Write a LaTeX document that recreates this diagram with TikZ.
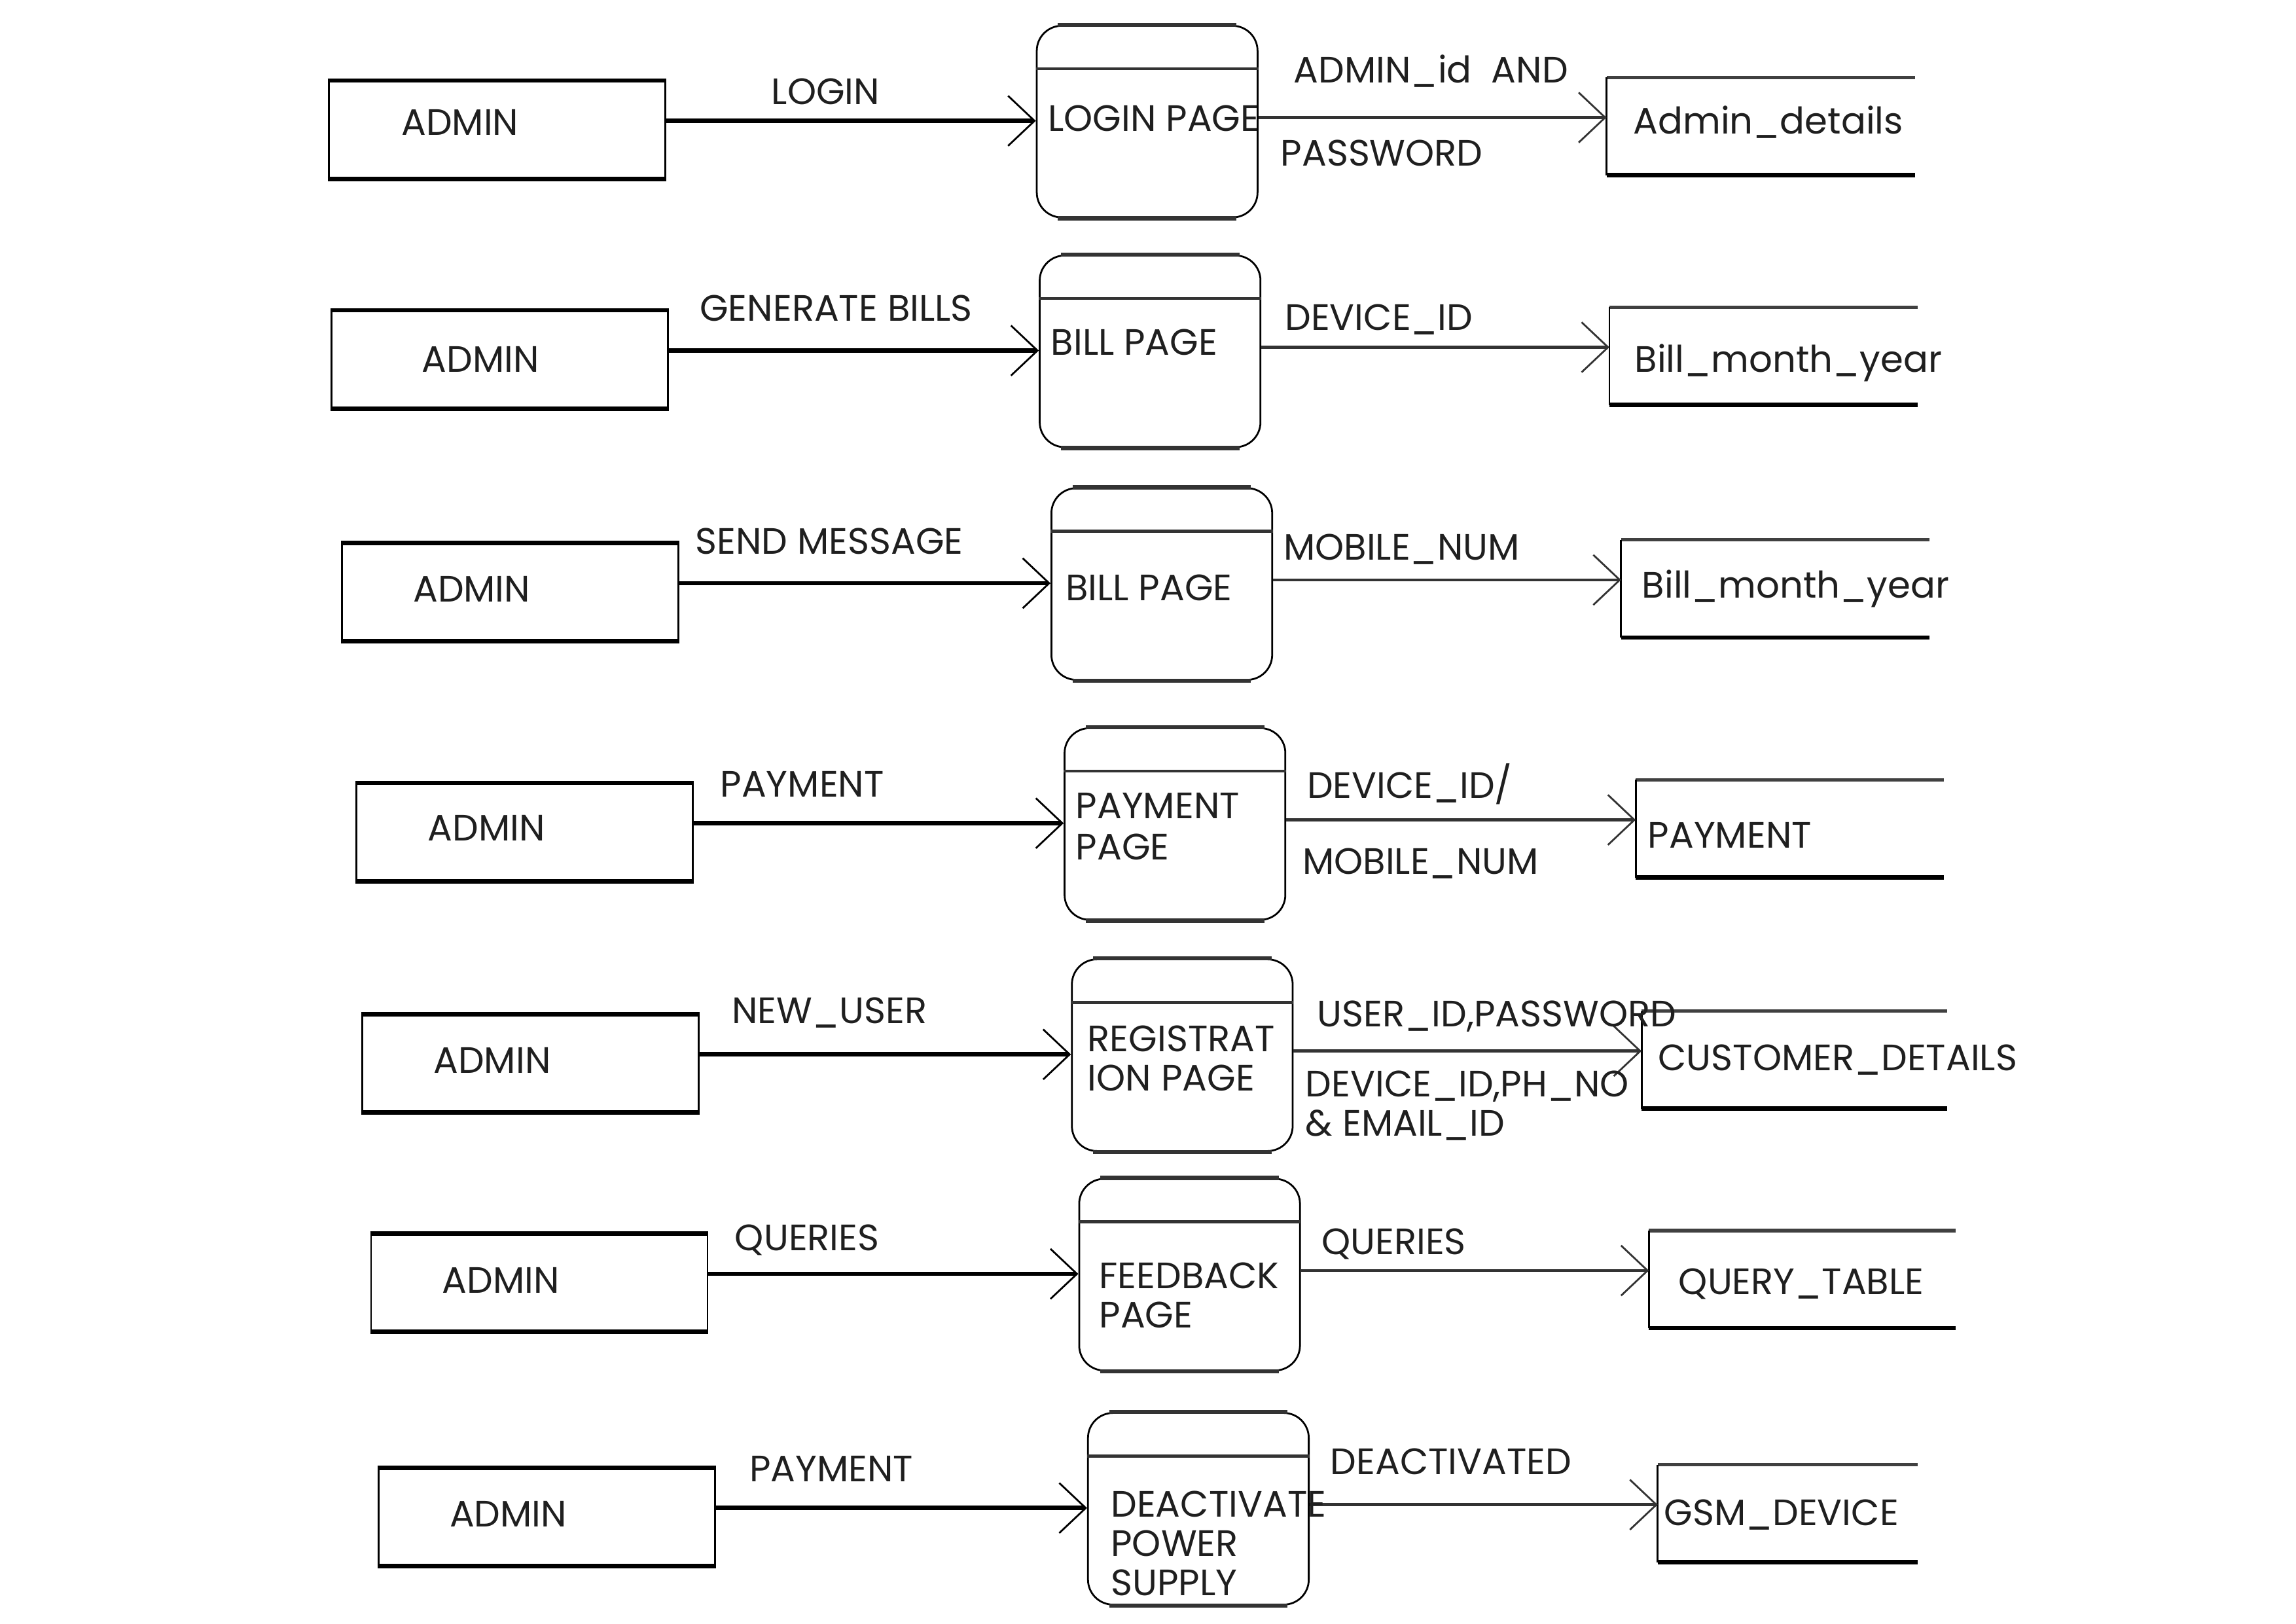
\documentclass[tikz,border=0pt]{standalone}
\usepackage{fontspec}
\setmainfont{Poppins}
\usetikzlibrary{arrows.meta,calc}
\tikzset{
  adminbox/.style={draw, line width=0.7pt, minimum width=4.572cm, minimum height=1.312cm, inner sep=0pt, anchor=north west},
  procbox/.style={draw, line width=0.7pt, rounded corners=0.34cm, minimum width=3.0cm, minimum height=2.604cm, inner sep=0pt, anchor=north west},
  storebox/.style={inner sep=0pt, minimum height=1.312cm, anchor=north west},
  edgeline/.style={line width=1.7pt, line cap=butt},
  proctop/.style={line width=1.6pt, black!80},
  divider/.style={line width=1.2pt, black!80},
  sideline/.style={line width=0.7pt},
  storetop/.style={line width=1.3pt, black!75},
  txt/.style={anchor=base west, inner sep=0pt, yshift=-0.05cm, font=\fontsize{14.2}{16}\selectfont, text=black!88},
  inflow/.style={line width=1.7pt, -{Straight Barb[length=0.36cm, width=0.68cm, line width=0.7pt]}},
  outflow/.style={line width=1.2pt, black!80, -{Straight Barb[length=0.36cm, width=0.68cm, line width=0.7pt]}},
}
% #1 prefix, #2 admin x, #3 admin y, #4 process x, #5 store x, #6 store width (cm)
\newcommand\dfdrow[6]{%
  \node[adminbox] (#1a) at (#2,#3) {};
  \draw[edgeline] (#1a.north west) -- (#1a.north east);
  \draw[edgeline] (#1a.south west) -- (#1a.south east);
  \node[procbox] (#1p) at (#4,#3-38) {};
  \draw[proctop] ($(#1p.north west)+(0.3cm,0)$) -- ($(#1p.north east)+(-0.3cm,0)$);
  \draw[proctop] ($(#1p.south west)+(0.3cm,0)$) -- ($(#1p.south east)+(-0.3cm,0)$);
  \draw[divider] ($(#1p.north west)+(0,-0.596cm)$) -- ($(#1p.north east)+(0,-0.596cm)$);
  \node[storebox, minimum width=#6cm] (#1s) at (#5,#3-2) {};
  \draw[storetop] (#1s.north west) -- (#1s.north east);
  \draw[sideline] (#1s.north west) -- (#1s.south west);
  \draw[edgeline] (#1s.south west) -- (#1s.south east);
  \coordinate (#1l) at ($(#1a.east)+(0,0.12cm)$);
  \coordinate (#1r) at ($(#1s.west)+(0,0.12cm)$);
  \draw[inflow] (#1l) -- (#1l -| #1p.west);
  \draw[outflow] (#1r -| #1p.east) -- (#1r);
}
\begin{document}
\begin{tikzpicture}[x=0.01988cm,y=-0.01988cm]
\useasboundingbox[fill=white] (0cm,0cm) rectangle (31.2cm,-22.057cm);

% Row 1
\dfdrow{r1}{224}{55}{708}{1098}{4.175}
\node[txt] (r1t1) at (274,90) {ADMIN};
\node[txt] (r1t2) at (527,69) {LOGIN};
\node[txt] (r1t3) at (716,87) {LOGIN PAGE};
\node[txt] (r1t4) at (884,54) {ADMIN\_id~~AND};
\node[txt] (r1t5) at (875,111) {PASSWORD};
\node[txt] (r1t6) at (1116,89) {Admin\_details};

% Row 2
\dfdrow{r2}{226}{212}{710}{1100}{4.175}
\node[txt] (r2t1) at (288,252) {ADMIN};
\node[txt] (r2t2) at (478,217) {GENERATE BILLS};
\node[txt] (r2t3) at (718,240) {BILL PAGE};
\node[txt] (r2t4) at (878,223) {DEVICE\_ID};
\node[txt] (r2t5) at (1117,252) {Bill\_month\_year};

% Row 3
\dfdrow{r3}{233}{371}{718}{1108}{4.175}
\node[txt] (r3t1) at (282,409) {ADMIN};
\node[txt] (r3t2) at (475,376) {SEND MESSAGE};
\node[txt] (r3t3) at (728,408) {BILL PAGE};
\node[txt] (r3t4) at (877,380) {MOBILE\_NUM};
\node[txt] (r3t5) at (1122,406) {Bill\_month\_year};

% Row 4
\dfdrow{r4}{243}{535}{727}{1118}{4.175}
\node[txt] (r4t1) at (292,572) {ADMIN};
\node[txt] (r4t2) at (492,542) {PAYMENT};
\node[txt] (r4t3) at (735,557) {PAYMENT};
\node[txt] (r4t4) at (735,585) {PAGE};
\node[txt] (r4t5) at (893,543) {DEVICE\_ID/};
\node[txt] (r4t6) at (890,595) {MOBILE\_NUM};
\node[txt] (r4t7) at (1126,577) {PAYMENT};

% Row 5
\dfdrow{r5}{247}{693}{732}{1122}{4.135}
\node[txt] (r5t1) at (296,731) {ADMIN};
\node[txt] (r5t2) at (500,697) {NEW\_USER};
\node[txt] (r5t3) at (743,716) {REGISTRAT};
\node[txt] (r5t4) at (743,743) {ION PAGE};
\node[txt] (r5t5) at (900,699) {USER\_ID,PASSWORD};
\node[txt] (r5t6) at (892,747) {DEVICE\_ID,PH\_NO};
\node[txt] (r5t7) at (892,774) {\& EMAIL\_ID};
\node[txt] (r5t8) at (1133,729) {CUSTOMER\_DETAILS};

% Row 6
\dfdrow{r6}{253}{843}{737}{1127}{4.155}
\node[txt] (r6t1) at (302,881) {ADMIN};
\node[txt] (r6t2) at (502,852) {QUERIES};
\node[txt] (r6t3) at (751,878) {FEEDBACK};
\node[txt] (r6t4) at (751,905) {PAGE};
\node[txt] (r6t5) at (903,855) {QUERIES};
\node[txt] (r6t6) at (1147,882) {QUERY\_TABLE};

% Row 7
\dfdrow{r7}{258}{1003}{743}{1133}{3.519}
\node[txt] (r7t1) at (307,1041) {ADMIN};
\node[txt] (r7t2) at (512,1010) {PAYMENT};
\node[txt] (r7t3) at (759,1034) {DEACTIVATE};
\node[txt] (r7t4) at (759,1061) {POWER};
\node[txt] (r7t5) at (759,1088) {SUPPLY};
\node[txt] (r7t6) at (909,1005) {DEACTIVATED};
\node[txt] (r7t7) at (1137,1040) {GSM\_DEVICE};
\end{tikzpicture}
\end{document}
